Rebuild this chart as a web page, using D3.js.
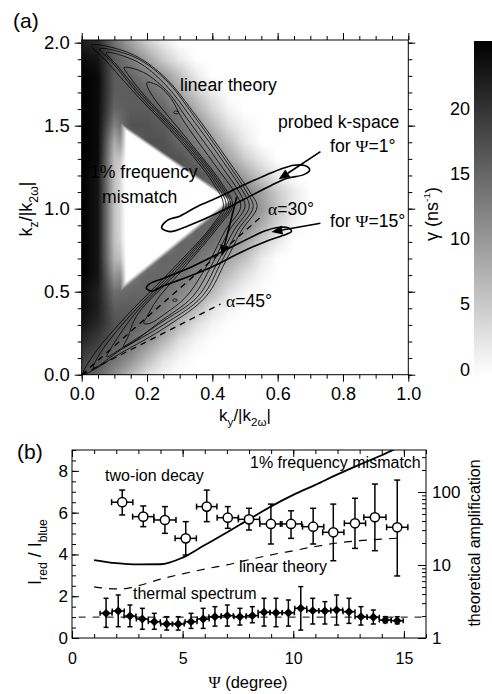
<!DOCTYPE html>
<html>
<head>
<meta charset="utf-8">
<script src="https://cdn.jsdelivr.net/npm/d3@7/dist/d3.min.js"></script>
<style>
html,body{margin:0;padding:0;background:#fff;}
svg{display:block;}
</style>
</head>
<body>
<svg id="chart" width="492" height="694"></svg>
<script>
// ================= Panel (a) data =================
const kyMajorTicks = [0, 0.2, 0.4, 0.6, 0.8, 1.0];
const kzMajorTicks = [0, 0.5, 1.0, 1.5, 2.0];
const gammaTicks = [0, 5, 10, 15, 20];
// growth-rate map gamma (ns^-1)
const gridKy = [0,0.05,0.1,0.15,0.2,0.25,0.3,0.35,0.4,0.45,0.5,0.55,0.6,0.65,0.7];
const gridKz = [2.1,2.0,1.9,1.8,1.7,1.6,1.5,1.4,1.3,1.2,1.1,1.0,0.9,0.8,0.7,0.6,0.5,0.4,0.3,0.2,0.1,0.0];
const gammaGrid = [
 [20,19,12,7,3,1,0,0,0,0,0,0,0,0,0],
 [22,21,14,9,5,2,0,0,0,0,0,0,0,0,0],
 [24,23,16,13,9,5,2,0,0,0,0,0,0,0,0],
 [25,24,16,15,13,10,6,2,0,0,0,0,0,0,0],
 [25,24,16,16,15,13,9,5,2,0,0,0,0,0,0],
 [25,24,15,16,16,15,12,8,4,1,0,0,0,0,0],
 [25,24,12,17,17,16,14,11,7,3,1,0,0,0,0],
 [25,24,8,14,17,17,15,13,10,6,2,0,0,0,0],
 [25,24,6,5,12,17,17,15,13,9,5,2,0,0,0],
 [25,23,6,0,2,9,16,17,15,13,9,5,2,0,0],
 [25,23,6,0,0,2,7,14,16,15,13,9,5,2,0],
 [25,23,6,0,0,1,5,11,15,15,13,10,6,2,0],
 [25,23,6,0,1,5,11,15,15,14,12,8,4,1,0],
 [25,23,6,1,5,12,15,15,14,12,9,5,2,0,0],
 [25,23,7,5,13,15,15,14,12,9,6,2,0,0,0],
 [25,23,10,13,15,15,14,12,9,6,3,1,0,0,0],
 [24,22,14,15,15,14,12,10,7,3,1,0,0,0,0],
 [24,22,16,16,15,13,10,7,3,1,0,0,0,0,0],
 [23,21,17,16,14,11,7,3,1,0,0,0,0,0,0],
 [21,19,16,14,11,7,3,1,0,0,0,0,0,0,0],
 [19,17,14,11,7,3,1,0,0,0,0,0,0,0,0],
 [17,15,11,7,3,1,0,0,0,0,0,0,0,0,0]
];
// zero-growth region (white triangle): upper corner, vertex, lower corner
const mismatchTriangle = [[0.118,1.52],[0.465,1.05],[0.118,0.50]];
// linear-theory contours (closed, nested chevrons)
const contourA = [[0.03,1.985],[0.148,1.936],[0.25,1.80],[0.354,1.55],[0.463,1.25],[0.515,1.10],[0.537,1.012],
 [0.49,0.87],[0.44,0.68],[0.38,0.47],[0.26,0.29],[0.12,0.13],[0.005,0.005],
 [0.04,0.13],[0.14,0.36],[0.28,0.64],[0.40,0.90],[0.434,1.02],[0.40,1.16],[0.30,1.41],[0.17,1.68],[0.07,1.90]];
const contourB = [[0.055,1.962],[0.16,1.915],[0.255,1.78],[0.347,1.55],[0.455,1.25],[0.505,1.10],[0.525,1.012],
 [0.478,0.87],[0.428,0.68],[0.368,0.47],[0.25,0.30],[0.12,0.15],[0.036,0.04],
 [0.06,0.14],[0.15,0.36],[0.288,0.64],[0.405,0.90],[0.442,1.02],[0.407,1.16],[0.307,1.41],[0.178,1.68],[0.09,1.89]];
const contourC = [[0.075,1.94],[0.17,1.885],[0.255,1.75],[0.335,1.55],[0.445,1.25],[0.495,1.10],[0.513,1.012],
 [0.466,0.87],[0.417,0.68],[0.355,0.47],[0.24,0.31],[0.13,0.17],[0.077,0.108],
 [0.09,0.16],[0.16,0.36],[0.296,0.64],[0.41,0.90],[0.45,1.02],[0.414,1.16],[0.314,1.41],[0.186,1.68],[0.105,1.87]];
const contourD = [[0.13,1.85],[0.19,1.82],[0.265,1.70],[0.32,1.55],[0.43,1.25],[0.482,1.10],[0.50,1.012],
 [0.452,0.87],[0.403,0.68],[0.34,0.47],[0.24,0.32],[0.16,0.20],[0.128,0.169],
 [0.14,0.22],[0.17,0.36],[0.304,0.64],[0.416,0.90],[0.456,1.02],[0.42,1.16],[0.32,1.41],[0.193,1.68],[0.145,1.80]];
const contourE = [[0.2,1.76],[0.235,1.74],[0.275,1.66],[0.305,1.55],[0.413,1.25],[0.468,1.10],[0.487,1.012],
 [0.44,0.87],[0.39,0.68],[0.32,0.47],[0.25,0.36],[0.21,0.31],[0.19,0.31],
 [0.2,0.35],[0.23,0.45],[0.312,0.64],[0.422,0.90],[0.462,1.02],[0.426,1.16],[0.327,1.41],[0.21,1.70]];
const contourF1 = [[0.285,1.588],[0.297,1.582],[0.294,1.572],[0.282,1.576]];
const contourF2 = [[0.281,0.456],[0.292,0.452],[0.29,0.442],[0.279,0.446]];
// probed k-space regions
const probePsi1 = [[0.245,0.885],[0.262,0.93],[0.30,0.955],[0.353,1.012],[0.42,1.07],[0.486,1.133],[0.55,1.19],[0.608,1.237],
 [0.65,1.262],[0.685,1.258],[0.698,1.232],[0.68,1.205],[0.629,1.183],[0.58,1.14],[0.5,1.06],[0.414,0.972],[0.33,0.9],[0.27,0.862]];
const probePsi15 = [[0.198,0.522],[0.209,0.548],[0.25,0.58],[0.32,0.635],[0.4,0.711],[0.48,0.79],[0.56,0.865],[0.6,0.887],
 [0.635,0.882],[0.642,0.862],[0.615,0.838],[0.56,0.8],[0.48,0.73],[0.4,0.65],[0.32,0.585],[0.25,0.535],[0.214,0.503]];
const alpha30Line = [[0,0],[0.555,0.961]];
const alpha45Line = [[0,0],[0.425,0.425]];
const arrowPsi1 = [[0.731,1.344],[0.603,1.177]];
const arrowPsi15 = [[0.731,0.912],[0.581,0.860]];
const arrowShift = [[0.475,1.072],[0.429,0.715]];

// ================= Panel (b) data =================
const psiTicks = [0, 5, 10, 15];
const ratioTicks = [0, 2, 4, 6, 8];
const ampTicks = [1, 10, 100];
const ampMinorTicks = [2,3,4,5,6,7,8,9,20,30,40,50,60,70,80,90,200,300];
const twoIonPsi   = [2.27,3.22,4.2,5.14,6.09,7.04,8.0,8.99,9.9,10.9,11.81,12.79,13.69,14.7];
const twoIonRatio = [6.5,5.81,5.65,4.77,6.29,5.76,5.68,5.46,5.46,5.33,5.06,5.49,5.78,5.3];
const twoIonHigh  = [7.08,6.32,6.29,5.57,7.08,6.29,6.21,6.41,6.09,6.21,6.41,6.69,7.37,7.56];
const twoIonLow   = [5.89,5.33,5.01,3.97,5.57,5.25,5.17,4.5,4.77,4.5,3.7,4.29,4.18,2.97];
const twoIonPsiErr= [0.48,0.48,0.5,0.48,0.46,0.48,0.48,0.5,0.48,0.48,0.48,0.48,0.5,0.48];
const thermalPsi   = [1.54,2.09,2.62,3.18,3.72,4.28,4.8,5.38,5.93,6.46,7.02,7.59,8.15,8.68,9.22,9.78,10.34,10.88,11.43,11.96,12.52,13.06,13.62,14.16,14.7];
const thermalRatio = [1.18,1.29,1.05,0.91,0.78,0.67,0.67,0.78,0.91,1.02,1.07,1.02,1.07,1.23,1.21,1.21,1.42,1.31,1.29,1.34,1.26,1.02,0.99,0.86,0.83];
const thermalHigh  = [1.9,2.06,1.58,1.42,1.18,1.02,1.02,1.18,1.42,1.5,1.58,1.42,1.5,1.9,1.9,1.82,2.46,1.9,1.74,2.06,1.9,1.5,1.34,1.02,1.02];
const thermalLow   = [0.51,0.54,0.54,0.42,0.42,0.38,0.38,0.46,0.46,0.57,0.57,0.62,0.73,0.57,0.54,0.57,0.38,0.67,0.67,0.62,0.7,0.62,0.67,0.73,0.68];
const thermalPsiErr= [0.27,0.27,0.27,0.27,0.27,0.27,0.27,0.27,0.27,0.27,0.27,0.27,0.27,0.27,0.27,0.27,0.27,0.27,0.27,0.27,0.27,0.27,0.27,0.27,0.27];
const mismatchPsi   = [1,2,3,4,5,6,7,8,9,10,11,12,13,14,14.6];
const mismatchRatio = [3.73,3.58,3.52,3.53,3.85,4.45,5.05,5.68,6.3,6.85,7.33,7.83,8.3,8.75,9.05];
const linearPsi   = [1,1.5,2,2.5,3,4,5,6,7,8,9,10,11,12,13,14,15];
const linearRatio = [2.45,2.38,2.35,2.38,2.5,2.82,3.07,3.3,3.5,3.75,3.98,4.18,4.38,4.55,4.66,4.73,4.8];
const thermalRefPsi = [0.3, 16];
const thermalRefRatio = [1, 1];

// ================= drawing =================
const SANS = '"Liberation Sans", Arial, Helvetica, sans-serif';
const SERIF = '"Liberation Serif", "Times New Roman", serif';
const svg = d3.select('#chart');

function rich(g, x, y, parts, o) {
  o = o || {};
  const fs = o.size || 17;
  const t = g.append('text').attr('x', x).attr('y', y)
    .attr('font-family', SANS).attr('font-size', fs)
    .attr('text-anchor', o.anchor || 'start').attr('fill', '#000');
  if (o.rotate) t.attr('transform', `rotate(${o.rotate},${x},${y})`);
  let shift = 0;
  parts.forEach(p => {
    const s = t.append('tspan').text(p.t);
    let target = 0;
    if (p.sub) target = fs * 0.32;
    if (p.sup) target = -fs * 0.42;
    if (target - shift !== 0) s.attr('dy', target - shift);
    shift = target;
    if (p.sub || p.sup) s.attr('font-size', fs * (p.scale || 0.68));
    if (p.serif) s.attr('font-family', SERIF);
  });
  return t;
}
function styleAxis(g, fs) {
  g.attr('font-family', SANS).attr('font-size', fs);
  g.select('.domain').remove();
  g.selectAll('line').attr('stroke', '#000').attr('stroke-width', 1);
  g.selectAll('text').attr('fill', '#000');
}

// ---------- Panel (a) ----------
const xA = d3.scaleLinear().domain([0, 1]).range([81.7, 408.3]);
const yA = d3.scaleLinear().domain([0, 2.016]).range([374.7, 40]);

// heat map via canvas
(function () {
  const x0 = xA(0), x1 = xA(1), y0 = yA(2.016), y1 = yA(0);
  const cw = Math.round(x1 - x0), ch = Math.round(y1 - y0);
  const cv = document.createElement('canvas'); cv.width = cw; cv.height = ch;
  const ctx = cv.getContext('2d');
  const img = ctx.createImageData(cw, ch);
  const dKy = gridKy[1] - gridKy[0], dKz = gridKz[0] - gridKz[1];
  function gammaAt(ky, kz) {
    let fx = (ky - gridKy[0]) / dKy, fy = (gridKz[0] - kz) / dKz;
    fx = Math.max(0, Math.min(gridKy.length - 1.0001, fx));
    fy = Math.max(0, Math.min(gridKz.length - 1.0001, fy));
    const i = Math.floor(fx), j = Math.floor(fy), u = fx - i, v = fy - j;
    const a = gammaGrid[j][i], b = gammaGrid[j][i + 1], c = gammaGrid[j + 1][i], d = gammaGrid[j + 1][i + 1];
    return (a * (1 - u) + b * u) * (1 - v) + (c * (1 - u) + d * u) * v;
  }
  const tri = mismatchTriangle.map(d => [xA(d[0]), yA(d[1])]);
  const cx = d3.mean(tri, d => d[0]), cy = d3.mean(tri, d => d[1]);
  const edges = tri.map((p, i) => {
    const q = tri[(i + 1) % 3];
    let nx = -(q[1] - p[1]), ny = q[0] - p[0];
    const L = Math.hypot(nx, ny); nx /= L; ny /= L;
    if ((cx - p[0]) * nx + (cy - p[1]) * ny < 0) { nx = -nx; ny = -ny; }
    return { p, nx, ny };
  });
  const feather = [3.5, 4, 6];
  for (let py = 0; py < ch; py++) {
    for (let px = 0; px < cw; px++) {
      const X = x0 + px + 0.5, Y = y0 + py + 0.5;
      let g = gammaAt(xA.invert(X), yA.invert(Y));
      let t = 1;
      edges.forEach((e, k) => {
        const dd = (X - e.p[0]) * e.nx + (Y - e.p[1]) * e.ny;
        t = Math.min(t, Math.max(0, Math.min(1, dd / feather[k])));
      });
      g *= (1 - t);
      const val = Math.round(255 * (1 - Math.max(0, Math.min(25, g)) / 25));
      const o = (py * cw + px) * 4;
      img.data[o] = val; img.data[o + 1] = val; img.data[o + 2] = val; img.data[o + 3] = 255;
    }
  }
  ctx.putImageData(img, 0, 0);
  svg.append('image').attr('x', x0).attr('y', y0).attr('width', cw).attr('height', ch)
    .attr('preserveAspectRatio', 'none').attr('href', cv.toDataURL());
})();

const gA = svg.append('g');
const closedLine = d3.line().x(d => xA(d[0])).y(d => yA(d[1])).curve(d3.curveCatmullRomClosed.alpha(0.5));
const openLine = d3.line().x(d => xA(d[0])).y(d => yA(d[1]));
[contourA, contourB, contourC, contourD, contourE, contourF1, contourF2].forEach(c => {
  gA.append('path').attr('d', closedLine(c)).attr('fill', 'none').attr('stroke', '#000').attr('stroke-width', 0.8);
});
[alpha30Line, alpha45Line].forEach(l => {
  gA.append('path').attr('d', openLine(l)).attr('fill', 'none').attr('stroke', '#000')
    .attr('stroke-width', 1.3).attr('stroke-dasharray', '6,5');
});
[probePsi1, probePsi15].forEach(c => {
  gA.append('path').attr('d', closedLine(c)).attr('fill', 'none').attr('stroke', '#000').attr('stroke-width', 1.6);
});
function arrow(a) {
  const s = [xA(a[0][0]), yA(a[0][1])], e = [xA(a[1][0]), yA(a[1][1])];
  const dx = e[0] - s[0], dy = e[1] - s[1], L = Math.hypot(dx, dy), ux = dx / L, uy = dy / L;
  const hl = 11, hw = 4.5;
  const bx = e[0] - ux * hl, by = e[1] - uy * hl;
  gA.append('line').attr('x1', s[0]).attr('y1', s[1]).attr('x2', bx).attr('y2', by)
    .attr('stroke', '#000').attr('stroke-width', 1.6);
  gA.append('path').attr('d', `M${e[0]},${e[1]}L${bx - uy * hw},${by + ux * hw}L${bx + uy * hw},${by - ux * hw}Z`).attr('fill', '#000');
}
[arrowPsi1, arrowPsi15, arrowShift].forEach(arrow);

// frame + axes (a)
svg.append('rect').attr('x', xA(0)).attr('y', yA(2.016)).attr('width', xA(1) - xA(0)).attr('height', yA(0) - yA(2.016))
  .attr('fill', 'none').attr('stroke', '#000').attr('stroke-width', 1);
const kyMinor = d3.range(0, 1.0001, 0.05), kzMinor = d3.range(0, 2.0001, 0.1);
svg.append('g').attr('transform', `translate(0,${yA(0)})`)
  .call(d3.axisBottom(xA).tickValues(kyMinor).tickFormat('').tickSize(4)).call(g => styleAxis(g, 18));
svg.append('g').attr('transform', `translate(0,${yA(0)})`)
  .call(d3.axisBottom(xA).tickValues(kyMajorTicks).tickFormat(d3.format('.1f')).tickSize(7).tickPadding(6)).call(g => styleAxis(g, 18));
svg.append('g').attr('transform', `translate(0,${yA(2.016)})`)
  .call(d3.axisTop(xA).tickValues(kyMinor).tickFormat('').tickSize(4)).call(g => styleAxis(g, 18));
svg.append('g').attr('transform', `translate(0,${yA(2.016)})`)
  .call(d3.axisTop(xA).tickValues(kyMajorTicks).tickFormat('').tickSize(7)).call(g => styleAxis(g, 18));
svg.append('g').attr('transform', `translate(${xA(0)},0)`)
  .call(d3.axisLeft(yA).tickValues(kzMinor).tickFormat('').tickSize(4)).call(g => styleAxis(g, 18));
svg.append('g').attr('transform', `translate(${xA(0)},0)`)
  .call(d3.axisLeft(yA).tickValues(kzMajorTicks).tickFormat(d3.format('.1f')).tickSize(7).tickPadding(5)).call(g => styleAxis(g, 18.5));
svg.append('g').attr('transform', `translate(${xA(1)},0)`)
  .call(d3.axisRight(yA).tickValues(kzMinor).tickFormat('').tickSize(4)).call(g => styleAxis(g, 18));
svg.append('g').attr('transform', `translate(${xA(1)},0)`)
  .call(d3.axisRight(yA).tickValues(kzMajorTicks).tickFormat('').tickSize(7)).call(g => styleAxis(g, 18));

// colour bar
const cbScale = d3.scaleLinear().domain([0, 25]).range([369.5, 43]);
const defs = svg.append('defs');
const grad = defs.append('linearGradient').attr('id', 'cbgrad').attr('x1', 0).attr('y1', 1).attr('x2', 0).attr('y2', 0);
grad.append('stop').attr('offset', '0%').attr('stop-color', '#ffffff');
grad.append('stop').attr('offset', '100%').attr('stop-color', '#000000');
svg.append('rect').attr('x', 474).attr('y', 41).attr('width', 20).attr('height', 334).attr('fill', 'url(#cbgrad)');
svg.append('g').attr('transform', 'translate(474,0)')
  .call(d3.axisLeft(cbScale).tickValues(gammaTicks).tickSize(0).tickPadding(4)).call(g => styleAxis(g, 18));

// texts (a)
const FA = 17.6;
rich(svg, 13, 28, [{ t: '(a)' }], { size: 21 });
rich(svg, 180, 91, [{ t: 'linear theory' }], { size: FA });
rich(svg, 90, 178, [{ t: '1% frequency' }], { size: FA });
rich(svg, 102, 203, [{ t: 'mismatch' }], { size: FA });
rich(svg, 278, 128, [{ t: 'probed k-space' }], { size: FA });
rich(svg, 330, 152, [{ t: 'for ' }, { t: 'Ψ', serif: true }, { t: '=1°' }], { size: FA });
rich(svg, 330, 227, [{ t: 'for ' }, { t: 'Ψ', serif: true }, { t: '=15°' }], { size: FA });
rich(svg, 268, 215, [{ t: 'α', serif: true }, { t: '=30°' }], { size: FA });
rich(svg, 226, 307, [{ t: 'α', serif: true }, { t: '=45°' }], { size: FA });
rich(svg, 245, 421, [{ t: 'k' }, { t: 'y', sub: true }, { t: '/|k' }, { t: '2ω', sub: true }, { t: '|' }], { size: 17, anchor: 'middle' });
rich(svg, 32, 209, [{ t: 'k' }, { t: 'z', sub: true }, { t: '/|k' }, { t: '2ω', sub: true }, { t: '|' }], { size: 18, anchor: 'middle', rotate: -90 });
rich(svg, 438, 214, [{ t: 'γ' }, { t: ' (ns' }, { t: '-1', sup: true, scale: 0.55 }, { t: ')' }], { size: 18, anchor: 'middle', rotate: -90 });

// ---------- Panel (b) ----------
const xB = d3.scaleLinear().domain([0, 16]).range([72, 426]);
const yB = d3.scaleLinear().domain([0, 9]).range([638, 450]);
const yBR = d3.scaleLog().domain([1, 376]).range([638, 450]);
const gB = svg.append('g');
defs.append('clipPath').attr('id', 'clipB').append('rect')
  .attr('x', xB(0)).attr('y', yB(9)).attr('width', xB(16) - xB(0)).attr('height', yB(0) - yB(9));
const gBc = gB.append('g').attr('clip-path', 'url(#clipB)');
const lineB = d3.line().x(d => xB(d[0])).y(d => yB(d[1]));
gBc.append('path').attr('d', lineB(thermalRefPsi.map((p, i) => [p, thermalRefRatio[i]])))
  .attr('fill', 'none').attr('stroke', '#000').attr('stroke-width', 1).attr('stroke-dasharray', '7,7');
gBc.append('path').attr('d', lineB.curve(d3.curveMonotoneX)(linearPsi.map((p, i) => [p, linearRatio[i]])))
  .attr('fill', 'none').attr('stroke', '#000').attr('stroke-width', 1.2).attr('stroke-dasharray', '8,7');
gBc.append('path').attr('d', lineB.curve(d3.curveMonotoneX)(mismatchPsi.map((p, i) => [p, mismatchRatio[i]])))
  .attr('fill', 'none').attr('stroke', '#000').attr('stroke-width', 1.8);

function errBars(psi, val, lo, hi, perr, cap) {
  psi.forEach((p, i) => {
    const x = xB(p), y = yB(val[i]), xl = xB(p - perr[i]), xr = xB(p + perr[i]), yl = yB(lo[i]), yh = yB(hi[i]);
    const segs = [[x, yl, x, yh], [x - cap, yl, x + cap, yl], [x - cap, yh, x + cap, yh],
                  [xl, y, xr, y], [xl, y - cap, xl, y + cap], [xr, y - cap, xr, y + cap]];
    segs.forEach(s => gB.append('line').attr('x1', s[0]).attr('y1', s[1]).attr('x2', s[2]).attr('y2', s[3])
      .attr('stroke', '#000').attr('stroke-width', 1.5));
  });
}
errBars(twoIonPsi, twoIonRatio, twoIonLow, twoIonHigh, twoIonPsiErr, 3);
errBars(thermalPsi, thermalRatio, thermalLow, thermalHigh, thermalPsiErr, 2.5);
twoIonPsi.forEach((p, i) => {
  gB.append('circle').attr('cx', xB(p)).attr('cy', yB(twoIonRatio[i])).attr('r', 4.6)
    .attr('fill', '#fff').attr('stroke', '#000').attr('stroke-width', 1.5);
});
const diamond = d3.symbol().type(d3.symbolSquare).size(40);
thermalPsi.forEach((p, i) => {
  gB.append('path').attr('d', diamond()).attr('fill', '#000')
    .attr('transform', `translate(${xB(p)},${yB(thermalRatio[i])}) rotate(45)`);
});

// frame + axes (b)
svg.append('rect').attr('x', xB(0)).attr('y', yB(9)).attr('width', xB(16) - xB(0)).attr('height', yB(0) - yB(9))
  .attr('fill', 'none').attr('stroke', '#000').attr('stroke-width', 1);
const psiMinor = d3.range(0, 16.001, 1), ratioMinor = d3.range(0, 9.001, 0.5);
const FB = 16;
svg.append('g').attr('transform', `translate(0,${yB(0)})`)
  .call(d3.axisBottom(xB).tickValues(psiMinor).tickFormat('').tickSizeInner(-4).tickSizeOuter(0)).call(g => styleAxis(g, FB));
svg.append('g').attr('transform', `translate(0,${yB(0)})`)
  .call(d3.axisBottom(xB).tickValues(psiTicks).tickSizeInner(-7).tickSizeOuter(0).tickPadding(15)).call(g => styleAxis(g, FB));
svg.append('g').attr('transform', `translate(0,${yB(9)})`)
  .call(d3.axisTop(xB).tickValues(psiMinor).tickFormat('').tickSizeInner(-4).tickSizeOuter(0)).call(g => styleAxis(g, FB));
svg.append('g').attr('transform', `translate(0,${yB(9)})`)
  .call(d3.axisTop(xB).tickValues(psiTicks).tickFormat('').tickSizeInner(-7).tickSizeOuter(0)).call(g => styleAxis(g, FB));
svg.append('g').attr('transform', `translate(${xB(0)},0)`)
  .call(d3.axisLeft(yB).tickValues(ratioMinor).tickFormat('').tickSizeInner(-4).tickSizeOuter(0)).call(g => styleAxis(g, FB));
svg.append('g').attr('transform', `translate(${xB(0)},0)`)
  .call(d3.axisLeft(yB).tickValues(ratioTicks).tickSizeInner(-7).tickSizeOuter(0).tickPadding(4)).call(g => styleAxis(g, 17));
svg.append('g').attr('transform', `translate(${xB(16)},0)`)
  .call(d3.axisRight(yBR).tickValues(ampMinorTicks).tickFormat('').tickSizeInner(-4).tickSizeOuter(0)).call(g => styleAxis(g, FB));
svg.append('g').attr('transform', `translate(${xB(16)},0)`)
  .call(d3.axisRight(yBR).tickValues(ampTicks).tickFormat(d3.format('d')).tickSizeInner(-8).tickSizeOuter(0).tickPadding(6)).call(g => styleAxis(g, 17));

// texts (b)
rich(svg, 17, 459, [{ t: '(b)' }], { size: 21 });
rich(svg, 105, 481, [{ t: 'two-ion decay' }], { size: FB });
rich(svg, 250, 468, [{ t: '1% frequency mismatch' }], { size: FB });
rich(svg, 239, 572, [{ t: 'linear theory' }], { size: FB });
rich(svg, 133, 599, [{ t: 'thermal spectrum' }], { size: FB });
rich(svg, 41, 552, [{ t: 'I' }, { t: 'red', sub: true }, { t: ' / I' }, { t: 'blue', sub: true }], { size: 18, anchor: 'middle', rotate: -90 });
rich(svg, 480, 543, [{ t: 'theoretical amplification' }], { size: 16, anchor: 'middle', rotate: -90 });
rich(svg, 248, 688, [{ t: 'Ψ', serif: true }, { t: ' (degree)' }], { size: 16.5, anchor: 'middle' });
</script>
</body>
</html>
